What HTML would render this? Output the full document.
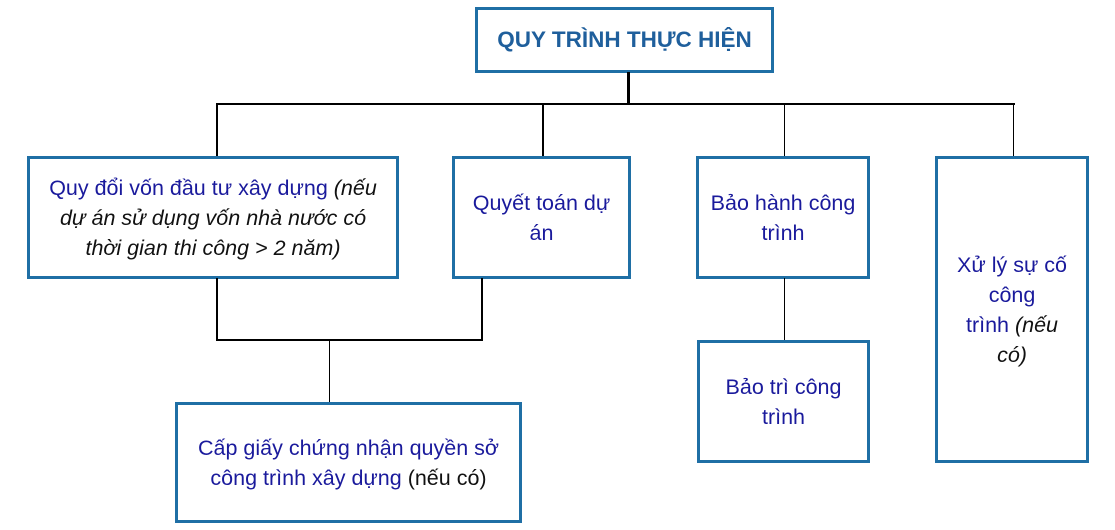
<!DOCTYPE html>
<html><head><meta charset="utf-8"><style>
body{margin:0;width:1115px;height:530px;background:#fff;position:relative;overflow:hidden;font-family:"Liberation Sans",sans-serif;}
.b{position:absolute;box-sizing:border-box;border:3px solid #1f6fa5;display:flex;align-items:center;justify-content:center;text-align:center;color:#1a1a9c;font-size:21.5px;line-height:30px;white-space:nowrap;}
.b>div{width:100%;}
.l{position:absolute;background:#000;}
i{color:#111;}
span.k{color:#111;}
</style></head><body>
<div class="b" style="left:475px;top:7px;width:299px;height:66px;font-weight:bold;color:#1f5f9c;font-size:22.5px;"><div>QUY TRÌNH THỰC HIỆN</div></div>
<div class="l" style="left:627px;top:72px;width:3px;height:33px"></div>
<div class="l" style="left:216px;top:103px;width:799px;height:2px"></div>
<div class="l" style="left:216px;top:104px;width:2px;height:52px"></div>
<div class="l" style="left:542px;top:104px;width:2px;height:52px"></div>
<div class="l" style="left:784px;top:104px;width:1px;height:52px"></div>
<div class="l" style="left:1013px;top:104px;width:1px;height:52px"></div>
<div class="b" style="left:27px;top:156px;width:372px;height:123px;"><div>Quy đổi vốn đầu tư xây dựng <i>(nếu</i><br><i>dự án sử dụng vốn nhà nước có</i><br><i>thời gian thi công &gt; 2 năm)</i></div></div>
<div class="b" style="left:452px;top:156px;width:179px;height:123px;"><div>Quyết toán dự<br>án</div></div>
<div class="b" style="left:696px;top:156px;width:174px;height:123px;"><div>Bảo hành công<br>trình</div></div>
<div class="b" style="left:935px;top:156px;width:154px;height:307px;"><div>Xử lý sự cố<br>công<br>trình <i>(nếu</i><br><i>có)</i></div></div>
<div class="l" style="left:216px;top:278px;width:2px;height:63px"></div>
<div class="l" style="left:481px;top:278px;width:2px;height:63px"></div>
<div class="l" style="left:216px;top:339px;width:267px;height:2px"></div>
<div class="l" style="left:329px;top:340px;width:1px;height:62px"></div>
<div class="l" style="left:784px;top:278px;width:1px;height:62px"></div>
<div class="b" style="left:175px;top:402px;width:347px;height:121px;"><div>Cấp giấy chứng nhận quyền sở<br>công trình xây dựng <span class="k">(nếu có)</span></div></div>
<div class="b" style="left:697px;top:340px;width:173px;height:123px;"><div>Bảo trì công<br>trình</div></div>
</body></html>
